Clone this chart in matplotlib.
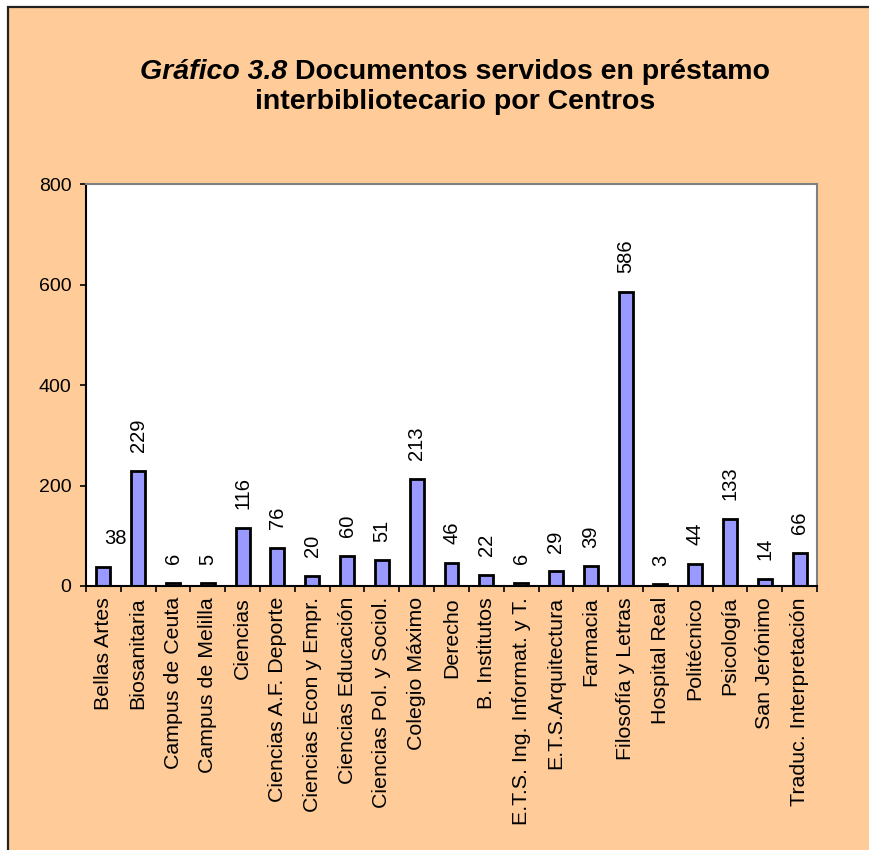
import matplotlib.pyplot as plt
from matplotlib.patches import Rectangle
import numpy as np

plt.rcParams['font.family'] = ['Liberation Sans', 'DejaVu Sans']

# Centros y documentos servidos
centros = ['Bellas Artes', 'Biosanitaria', 'Campus de Ceuta', 'Campus de Melilla',
           'Ciencias', 'Ciencias A.F. Deporte', 'Ciencias Econ y Empr.',
           'Ciencias Educación', 'Ciencias Pol. y Sociol.', 'Colegio Máximo',
           'Derecho', 'B. Institutos', 'E.T.S. Ing. Informat. y T.',
           'E.T.S.Arquitectura', 'Farmacia', 'Filosofía y Letras', 'Hospital Real',
           'Politécnico', 'Psicología', 'San Jerónimo', 'Traduc. Interpretación']
documentos = [38, 229, 6, 5, 116, 76, 20, 60, 51, 213, 46, 22, 6, 29, 39, 586,
              3, 44, 133, 14, 66]
yticks = [0, 200, 400, 600, 800]

W, H = 869, 850
fig = plt.figure(figsize=(W / 100, H / 100), dpi=100, facecolor='white')

# orange chart area with dark border on top/left
fig.patches.append(Rectangle((8 / W, -0.02), 1.1, 1 - 7 / H + 0.02,
                             transform=fig.transFigure, facecolor='#FFCC99',
                             edgecolor='#222222', linewidth=1.6, zorder=-5))

ax = fig.add_axes([86 / W, 1 - 586 / H, (817 - 86) / W, (586 - 184) / H])
ax.set_zorder(2)
ax.set_facecolor('white')

x = np.arange(len(centros))
ax.bar(x, documentos, width=0.4, color='#9999FF', edgecolor='black', linewidth=2)

for i, v in enumerate(documentos):
    if i == 0:
        ax.annotate(str(v), (x[i], v), xytext=(8.6, 13.5), textcoords='offset points',
                    ha='center', va='bottom', fontsize=14.5)
    else:
        ax.annotate(str(v), (x[i], v), xytext=(0, 13.5), textcoords='offset points',
                    ha='center', va='bottom', rotation=90, fontsize=14.5)

ax.set_xlim(-0.5, len(centros) - 0.5)
ax.set_ylim(0, 800)
ax.set_yticks(yticks)
ax.set_yticklabels([str(t) for t in yticks], fontsize=14)
ax.set_xticks(x)
ax.set_xticklabels(centros, rotation=90, fontsize=15.4)
ax.set_xticks(np.arange(len(centros) + 1) - 0.5, minor=True)
ax.tick_params(axis='x', which='major', length=0, pad=8)
ax.tick_params(axis='x', which='minor', length=4.5, width=1.2, direction='out')
ax.tick_params(axis='y', length=4.5, width=1.2, pad=6)

for s in ['left', 'bottom']:
    ax.spines[s].set_color('black')
    ax.spines[s].set_linewidth(1.5)
for s in ['top', 'right']:
    ax.spines[s].set_color('#808080')
    ax.spines[s].set_linewidth(1.5)

# title: italic bold prefix followed by bold text
cx = 455 / W
fs = 20.5
t1 = fig.text(0, 1 - 72 / H, 'Gráfico 3.8 ', fontsize=fs, fontweight='bold',
              fontstyle='italic', va='center', ha='left')
t2 = fig.text(0, 1 - 72 / H, 'Documentos servidos en préstamo', fontsize=fs,
              fontweight='bold', va='center', ha='left')
fig.canvas.draw()
r = fig.canvas.get_renderer()
w1 = t1.get_window_extent(r).width / W
w2 = t2.get_window_extent(r).width / W
x0 = cx - (w1 + w2) / 2
t1.set_x(x0)
t2.set_x(x0 + w1)
fig.text(cx, 1 - 102 / H, 'interbibliotecario por Centros', fontsize=fs,
         fontweight='bold', va='center', ha='center')

fig.savefig('out.png', dpi=100, facecolor=fig.get_facecolor())
